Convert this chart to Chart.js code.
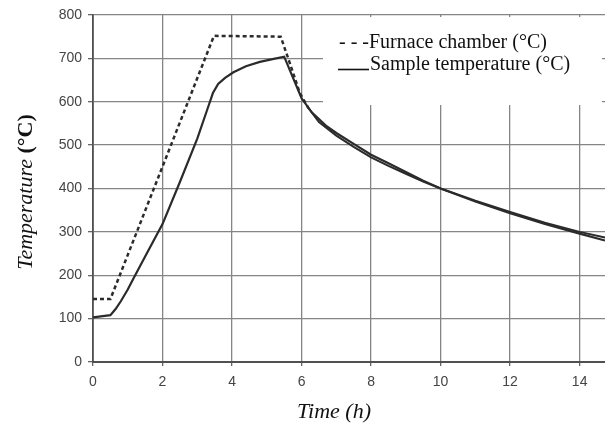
<!DOCTYPE html>
<html>
<head>
<meta charset="utf-8">
<script src="https://cdn.jsdelivr.net/npm/chart.js@4/dist/chart.umd.min.js"></script>
<style>
  html, body { margin: 0; padding: 0; background: #fff; }
  #c { display: block; }
</style>
</head>
<body>
<canvas id="c" width="605" height="430"></canvas>
<script>
// ---- data ----
const furnaceTime = [0, 0.5, 3.48, 5.4, 5.65, 5.95, 6.2, 6.5, 7.0, 7.5, 8.0, 8.5, 9.0, 9.5, 10, 11, 12, 13, 14, 14.73];
const furnaceTemp = [145, 145, 752, 750, 692, 620, 585, 553, 522, 496, 472, 452, 434, 416, 400, 372, 346, 321, 300, 287];

const sampleTime = [0, 0.5, 0.65, 0.8, 1.0, 1.16, 1.5, 2.0, 2.5, 3.0, 3.3, 3.45, 3.6, 3.8, 4.04, 4.4, 4.8, 5.2, 5.5, 6.0, 6.3, 6.7, 7.0, 7.5, 8.0, 8.5, 9.0, 9.5, 10, 11, 12, 13, 14, 14.73];
const sampleTemp = [103, 108, 122, 140, 167, 192, 243, 318, 415, 515, 585, 620, 641, 655, 668, 682, 692, 699, 704, 608, 575, 545, 528, 503, 478, 458, 438, 418, 400, 370, 343, 318, 296, 280];

const seriesNames = ['Furnace chamber (°C)', 'Sample temperature (°C)'];
const xTicks = [0, 2, 4, 6, 8, 10, 12, 14];
const yTicks = [0, 100, 200, 300, 400, 500, 600, 700, 800];
const xTitle = 'Time (h)';
const yTitleMain = 'Temperature';
const yTitleUnit = '(°C)';
const legendLines = ['- - -' + seriesNames[0], seriesNames[1]];

const toXY = (xs, ys) => xs.map((x, i) => ({ x: x, y: ys[i] }));

const SERIF = '"Liberation Serif", "Times New Roman", serif';
const SANS = '"Liberation Sans", Arial, sans-serif';

const annotatePlugin = {
  id: 'annotate',
  beforeDatasetsDraw(chart) {
    const ctx = chart.ctx;
    ctx.save();
    // legend box
    ctx.fillStyle = '#ffffff';
    ctx.fillRect(323, 17, 279, 88);
    ctx.fillStyle = '#111';
    ctx.font = '20px ' + SERIF;
    ctx.textBaseline = 'middle';
    ctx.textAlign = 'left';
    ctx.fillText(legendLines[0], 339, 43);
    ctx.strokeStyle = '#111';
    ctx.lineWidth = 1.6;
    ctx.beginPath();
    ctx.moveTo(338, 69.5);
    ctx.lineTo(369, 69.5);
    ctx.stroke();
    ctx.fillText(legendLines[1], 370, 65);
    ctx.restore();
  },
  afterDraw(chart) {
    const ctx = chart.ctx;
    ctx.save();
    ctx.fillStyle = '#111';
    ctx.textBaseline = 'middle';
    // x title
    ctx.font = 'italic 22px ' + SERIF;
    ctx.textAlign = 'center';
    ctx.fillText(xTitle, 334, 412);
    // y title (rotated, mixed styles)
    const fMain = 'italic 22px ' + SERIF;
    const fUnit = 'bold 22px ' + SERIF;
    ctx.font = fMain;
    const w1 = ctx.measureText(yTitleMain + ' ').width;
    ctx.font = fUnit;
    const w2 = ctx.measureText(yTitleUnit).width;
    const total = w1 + w2;
    ctx.translate(26, 192);
    ctx.rotate(-Math.PI / 2);
    ctx.textAlign = 'left';
    ctx.font = fMain;
    ctx.fillText(yTitleMain + ' ', -total / 2, 0);
    ctx.font = fUnit;
    ctx.fillText(yTitleUnit, -total / 2 + w1, 0);
    ctx.restore();
  }
};

new Chart(document.getElementById('c'), {
  type: 'line',
  data: {
    datasets: [
      {
        label: seriesNames[0],
        data: toXY(furnaceTime, furnaceTemp),
        borderColor: '#2b2b2b',
        borderWidth: 2.5,
        borderDash: [4, 3],
        segment: {
          borderDash: c => (c.p0.parsed.x < 6.1 ? [4, 3] : []),
          borderWidth: c => (c.p0.parsed.x < 6.1 ? 2.5 : 2)
        },
        pointRadius: 0,
        tension: 0,
        fill: false
      },
      {
        label: seriesNames[1],
        data: toXY(sampleTime, sampleTemp),
        borderColor: '#2b2b2b',
        borderWidth: 2.2,
        pointRadius: 0,
        tension: 0,
        fill: false
      }
    ]
  },
  options: {
    responsive: false,
    animation: false,
    devicePixelRatio: 1,
    layout: { padding: { top: 15, right: 0, left: 0, bottom: 0 } },
    plugins: {
      legend: { display: false },
      tooltip: { enabled: false },
      title: { display: false }
    },
    scales: {
      x: {
        type: 'linear',
        min: xTicks[0],
        max: 14.73,
        afterBuildTicks: s => { s.ticks = xTicks.map(v => ({ value: v })); },
        ticks: {
          stepSize: 2,
          includeBounds: false,
          color: '#444',
          font: { family: SANS, size: 14 },
          padding: 8,
          maxRotation: 0
        },
        grid: { color: '#858585', lineWidth: 1.3, tickLength: 4, tickColor: '#666' },
        border: { color: '#505050', width: 2 },
        afterFit: s => { s.height = 68; }
      },
      y: {
        min: yTicks[0],
        max: yTicks[yTicks.length - 1],
        afterBuildTicks: s => { s.ticks = yTicks.map(v => ({ value: v })); },
        ticks: {
          stepSize: 100,
          color: '#444',
          font: { family: SANS, size: 14 },
          padding: 6
        },
        grid: { color: '#858585', lineWidth: 1.3, tickLength: 5, tickColor: '#666' },
        border: { color: '#505050', width: 1.8 },
        afterFit: s => { s.width = 93; }
      }
    }
  },
  plugins: [annotatePlugin]
});
</script>
</body>
</html>
